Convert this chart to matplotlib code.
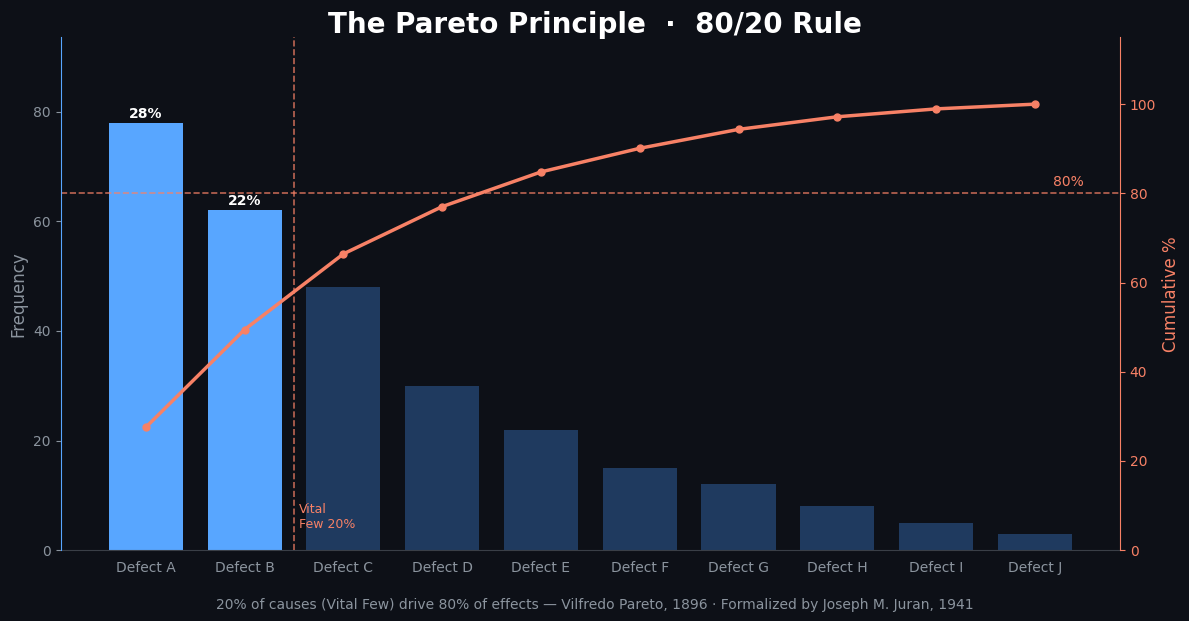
import matplotlib
matplotlib.use("Agg")
import numpy as np
from matplotlib import pyplot as plt

categories = ["Defect A", "Defect B", "Defect C", "Defect D", "Defect E",
              "Defect F", "Defect G", "Defect H", "Defect I", "Defect J"]
counts = [78, 62, 48, 30, 22, 15, 12, 8, 5, 3]
vital_few = 2

bg = "#0d1017"
blue = "#58a6ff"
dark_blue = "#1f3a5f"
coral = "#f78166"
grey = "#8b949e"

counts = np.array(counts)
share = counts / counts.sum() * 100
cumulative = np.cumsum(counts) / counts.sum() * 100
x = np.arange(len(categories))

fig, ax = plt.subplots(figsize=(11.89, 6.21), dpi=100)
fig.patch.set_facecolor(bg)
ax.set_facecolor(bg)

colors = [blue if i < vital_few else dark_blue for i in range(len(categories))]
ax.bar(x, counts, width=0.75, color=colors, zorder=2)
for i in range(vital_few):
    ax.text(x[i], counts[i] + 0.4, f"{share[i]:.0f}%", ha="center", va="bottom",
            color="white", fontsize=10, fontweight="bold")

ax.set_ylim(0, counts.max() * 1.2)
ax.set_xticks(x)
ax.set_xticklabels(categories)
ax.set_ylabel("Frequency", color=grey, fontsize=12)
ax.tick_params(axis="x", colors=grey, labelsize=10, length=0, pad=8)
ax.tick_params(axis="y", colors=grey, labelsize=10)
ax.axvline(vital_few - 0.5, color=coral, linestyle="--", linewidth=1.2, alpha=0.75, zorder=3)
ax.text(vital_few - 0.45, 6, "Vital\nFew 20%", color=coral, fontsize=9,
        ha="left", va="center", zorder=4)

ax2 = ax.twinx()
ax2.plot(x, cumulative, color=coral, linewidth=2.5, marker="o", markersize=5, zorder=5)
ax2.axhline(80, color=coral, linestyle="--", linewidth=1.2, alpha=0.75)
ax2.text(9.5, 81, "80%", color=coral, fontsize=10, ha="right", va="bottom")
ax2.set_ylim(0, 115)
ax2.set_ylabel("Cumulative %", color=coral, fontsize=12)
ax2.tick_params(axis="y", colors=coral, labelsize=10)

for a in (ax, ax2):
    a.spines["top"].set_visible(False)
ax.spines["right"].set_visible(False)
ax.spines["bottom"].set_color("#3a3f47")
ax2.spines["left"].set_color(blue)
ax2.spines["bottom"].set_visible(False)
ax2.spines["right"].set_color(coral)

fig.suptitle("The Pareto Principle  \u00b7  80/20 Rule", color="white",
             fontsize=20, fontweight="bold", y=0.983)
fig.text(0.5, 0.019, "20% of causes (Vital Few) drive 80% of effects \u2014 Vilfredo Pareto, 1896 \u00b7 "
         "Formalized by Joseph M. Juran, 1941", ha="center", color=grey, fontsize=10)

fig.subplots_adjust(left=0.051, right=0.942, top=0.94, bottom=0.114)
fig.savefig("out.png", dpi=100, facecolor=bg)
